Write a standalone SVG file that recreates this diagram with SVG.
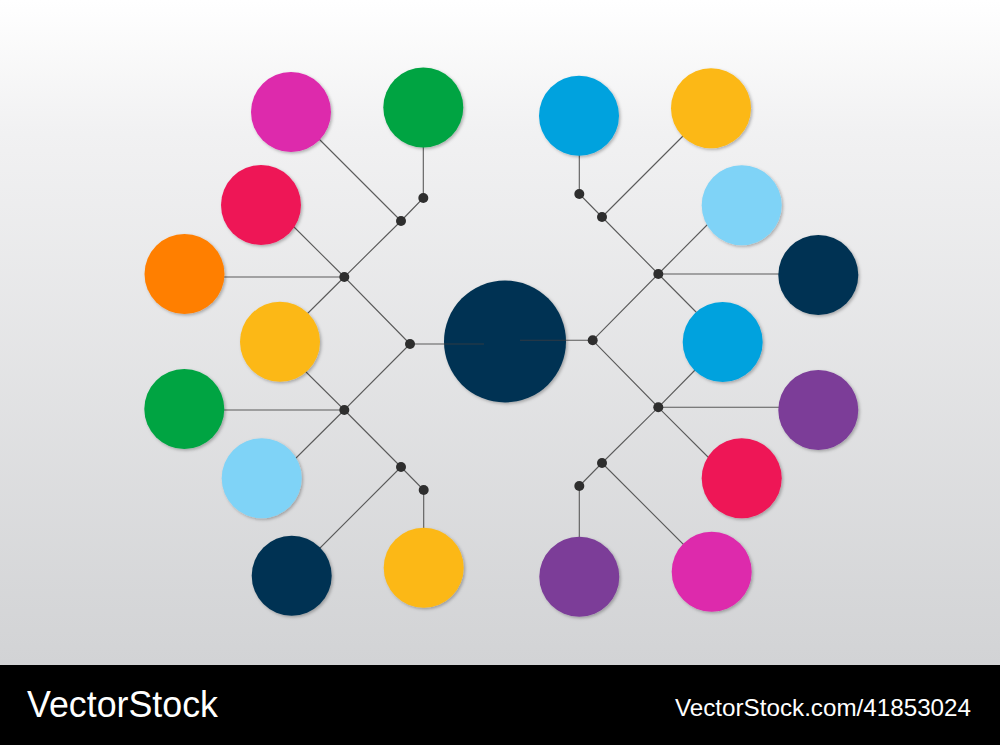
<svg xmlns="http://www.w3.org/2000/svg" width="1000" height="745" viewBox="0 0 1000 745">
<defs>
<linearGradient id="bg" x1="0" y1="0" x2="0" y2="665" gradientUnits="userSpaceOnUse">
<stop offset="0" stop-color="#ffffff"/>
<stop offset="0.2" stop-color="#f1f1f2"/>
<stop offset="1" stop-color="#d2d3d5"/>
</linearGradient>
<filter id="sh" x="-20%" y="-20%" width="140%" height="140%">
<feDropShadow dx="1.5" dy="1.5" stdDeviation="1.5" flood-color="#000" flood-opacity="0.28"/>
</filter>
</defs>
<style>
.n{filter:url(#sh)}
.c{fill:none;stroke:#5a5a5a;stroke-width:1.1}
.cc{fill:none;stroke:#2f3a44;stroke-width:1.1}
.d{fill:#2e2e2e}
.t{fill:#ffffff;font-family:"Liberation Sans",Arial,sans-serif}
</style>
<rect x="0" y="0" width="1000" height="665" fill="url(#bg)"/>
<g id="center"><circle class="n" cx="505" cy="341.5" r="61" fill="#063352"/></g>
<g id="connectors">
<path class="c" d="M423.3,147 V198 L401,221 L344.3,277 L410,344"/>
<path class="c" d="M410,344 H444 M566,340.3 H592.7"/>
<path class="cc" d="M444,344 H484 M520,340.3 H566"/>
<path class="c" d="M401,221 L291,111"/>
<path class="c" d="M344.3,277 L290,223 M344.3,277 H220 M344.3,277 L300,321"/>
<path class="c" d="M410,344 L344.3,410 L300,366 M344.3,410 H220 M344.3,410 L290,464"/>
<path class="c" d="M344.3,410 L401,467 L423.7,490 V530 M401,467 L291,577"/>
<path class="c" d="M579.3,150 V194 L602,217 L658.3,274 L592.7,340.3"/>
<path class="c" d="M602,217 L711,108 M658.3,274 L712,220 M658.3,274 H782 M658.3,274 L700,316"/>
<path class="c" d="M592.7,340.3 L658.3,407.3 L602,463 L579.3,486 V540 M602,463 L711,572"/>
<path class="c" d="M658.3,407.3 L700,365 M658.3,407.3 H782 M658.3,407.3 L712,461"/>
<circle class="d" cx="423.3" cy="198" r="5"/>
<circle class="d" cx="401" cy="221" r="5"/>
<circle class="d" cx="344.3" cy="277" r="5"/>
<circle class="d" cx="410" cy="344" r="5"/>
<circle class="d" cx="344.3" cy="410" r="5"/>
<circle class="d" cx="401" cy="467" r="5"/>
<circle class="d" cx="423.7" cy="490" r="5"/>
<circle class="d" cx="579.3" cy="194" r="5"/>
<circle class="d" cx="602" cy="217" r="5"/>
<circle class="d" cx="658.3" cy="274" r="5"/>
<circle class="d" cx="592.7" cy="340.3" r="5"/>
<circle class="d" cx="658.3" cy="407.3" r="5"/>
<circle class="d" cx="602" cy="463" r="5"/>
<circle class="d" cx="579.3" cy="486" r="5"/>
</g>
<g id="l-magenta"><circle class="n" cx="291" cy="112" r="40" fill="#dd29ac"/></g>
<g id="l-green-top"><circle class="n" cx="423.3" cy="107.5" r="40" fill="#02a443"/></g>
<g id="l-red"><circle class="n" cx="261" cy="205" r="40" fill="#ee1556"/></g>
<g id="l-orange"><circle class="n" cx="184.5" cy="274" r="40" fill="#ff7f00"/></g>
<g id="l-yellow"><circle class="n" cx="280" cy="341.7" r="40" fill="#fcb815"/></g>
<g id="l-green"><circle class="n" cx="184.3" cy="409" r="40" fill="#02a443"/></g>
<g id="l-lightblue"><circle class="n" cx="261.7" cy="478.3" r="40" fill="#7fd3f7"/></g>
<g id="l-navy"><circle class="n" cx="291.7" cy="575.7" r="40" fill="#063352"/></g>
<g id="l-yellow-bottom"><circle class="n" cx="423.7" cy="567.7" r="40" fill="#fcb815"/></g>
<g id="r-blue-top"><circle class="n" cx="579" cy="115.7" r="40" fill="#00a2de"/></g>
<g id="r-yellow"><circle class="n" cx="711" cy="108.3" r="40" fill="#fcb815"/></g>
<g id="r-lightblue"><circle class="n" cx="741.7" cy="205.3" r="40" fill="#7fd3f7"/></g>
<g id="r-navy"><circle class="n" cx="818.3" cy="275" r="40" fill="#063352"/></g>
<g id="r-blue"><circle class="n" cx="722.7" cy="342" r="40" fill="#00a2de"/></g>
<g id="r-purple"><circle class="n" cx="818.3" cy="410" r="40" fill="#7b3d98"/></g>
<g id="r-red"><circle class="n" cx="741.7" cy="478.3" r="40" fill="#ee1556"/></g>
<g id="r-magenta"><circle class="n" cx="711.7" cy="571.7" r="40" fill="#dd29ac"/></g>
<g id="r-purple-bottom"><circle class="n" cx="579.3" cy="576.7" r="40" fill="#7b3d98"/></g>
<g id="footer">
<rect x="0" y="665" width="1000" height="80" fill="#000000"/>
<text class="t" x="27" y="717" font-size="36" textLength="191" lengthAdjust="spacingAndGlyphs">VectorStock</text>
<text class="t" x="675" y="716" font-size="24" textLength="296" lengthAdjust="spacingAndGlyphs">VectorStock.com/41853024</text>
</g>
</svg>
